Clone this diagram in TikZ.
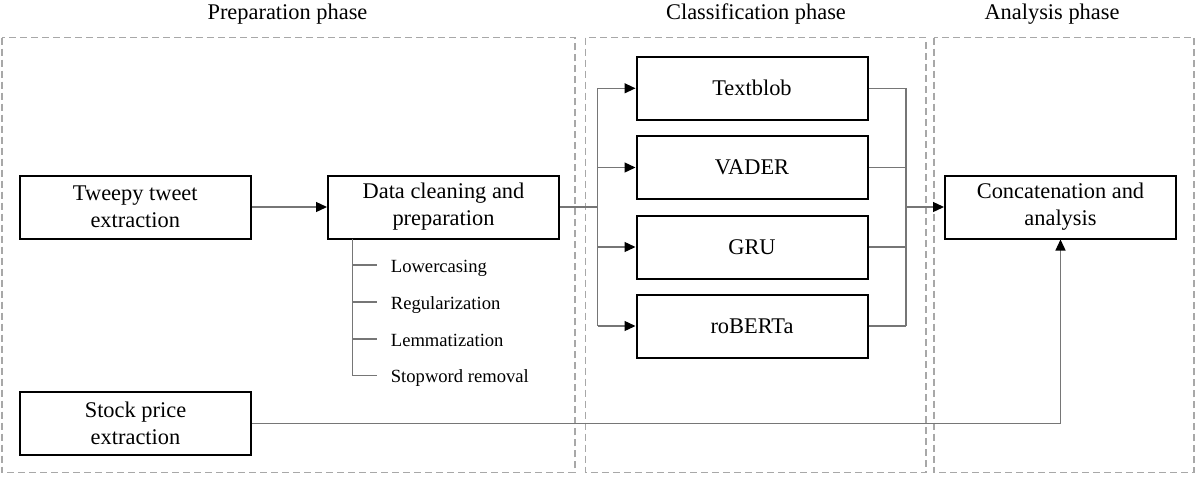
\documentclass[tikz,border=0pt]{standalone}
\usepackage{fontspec}
\setmainfont{Liberation Serif}
\usetikzlibrary{arrows.meta,calc}
\definecolor{panelgray}{HTML}{A8A8A8}
\definecolor{conngray}{HTML}{767676}
\newcommand{\boxfont}{\fontsize{22.4}{27}\selectfont}
\newcommand{\subfont}{\fontsize{18.6}{22}\selectfont}
\begin{document}
\begin{tikzpicture}[x=1pt,y=-1pt,
  box/.style={draw=black, line width=2pt, minimum width=231pt, minimum height=63pt,
    align=center, inner sep=0pt, font=\boxfont},
  titlenode/.style={inner sep=0pt, font=\boxfont},
  subitem/.style={anchor=west, inner xsep=14pt, inner ysep=0pt, text height=14pt, text depth=0pt, font=\subfont},
  panel/.style={draw=panelgray, line width=1.3pt, dash pattern=on 7pt off 4pt},
  conn/.style={draw=conngray, line width=1.3pt},
  arr/.style={conn, -{Triangle[length=11pt,width=10pt,color=black]}},
]
\useasboundingbox (0,0) rectangle (1197,477);

% panels
\draw[panel] (2,37.7) rectangle (575,472.5);
\draw[panel] (585.7,37.7) rectangle (926,472.5);
\draw[panel] (934,37.7) rectangle (1194,472.5);

% titles
\node[titlenode] (t1) at (287.5,14) {Preparation phase};
\node[titlenode] (t2) at (756,14) {Classification phase};
\node[titlenode] (t3) at (1052,14) {Analysis phase};

% boxes
\node[box] (tweepy) at (135.3,207) {Tweepy tweet\\extraction};
\node[box] (clean) at (443.5,207) {Data cleaning and\\preparation};
\node[box] (tb) at (752,88.3) {Textblob};
\node[box] (vader) at (752,167.5) {VADER};
\node[box] (gru) at (752,247) {GRU};
\node[box] (rob) at (752,326) {roBERTa};
\node[box] (concat) at (1060.5,207) {Concatenation and\\analysis};
\node[box] (stock) at (135.5,423.5) {Stock price\\extraction};

% sub items
\node[subitem] (s1) at (376.7,265) {Lowercasing};
\node[subitem] (s2) at (376.7,302) {Regularization};
\node[subitem] (s3) at (376.7,339) {Lemmatization};
\node[subitem] (s4) at (376.7,375.7) {Stopword removal};
\coordinate (treetop) at (352.7,238.5);
\coordinate (lb) at (597.7,207);
\coordinate (rb) at (906,207);

% connectors
\draw[arr] (tweepy) -- (clean);
\draw[conn] (clean.east) -- (lb);
\draw[conn] (lb |- tb.west) -- (lb |- rob.west);
\foreach \n in {tb,vader,gru,rob} {
  \draw[arr] (lb |- \n.west) -- (\n.west);
  \draw[conn] (\n.east) -- (rb |- \n.east);
}
\draw[conn] (rb |- tb.east) -- (rb |- rob.east);
\draw[arr] (rb) -- (concat.west);
\draw[arr] (stock.east) -| (concat.south);

% tree
\draw[conn] (treetop) -- (treetop |- s4.west);
\foreach \s in {s1,s2,s3,s4} {
  \draw[conn] (treetop |- \s.west) -- (\s.west);
}
\end{tikzpicture}
\end{document}
